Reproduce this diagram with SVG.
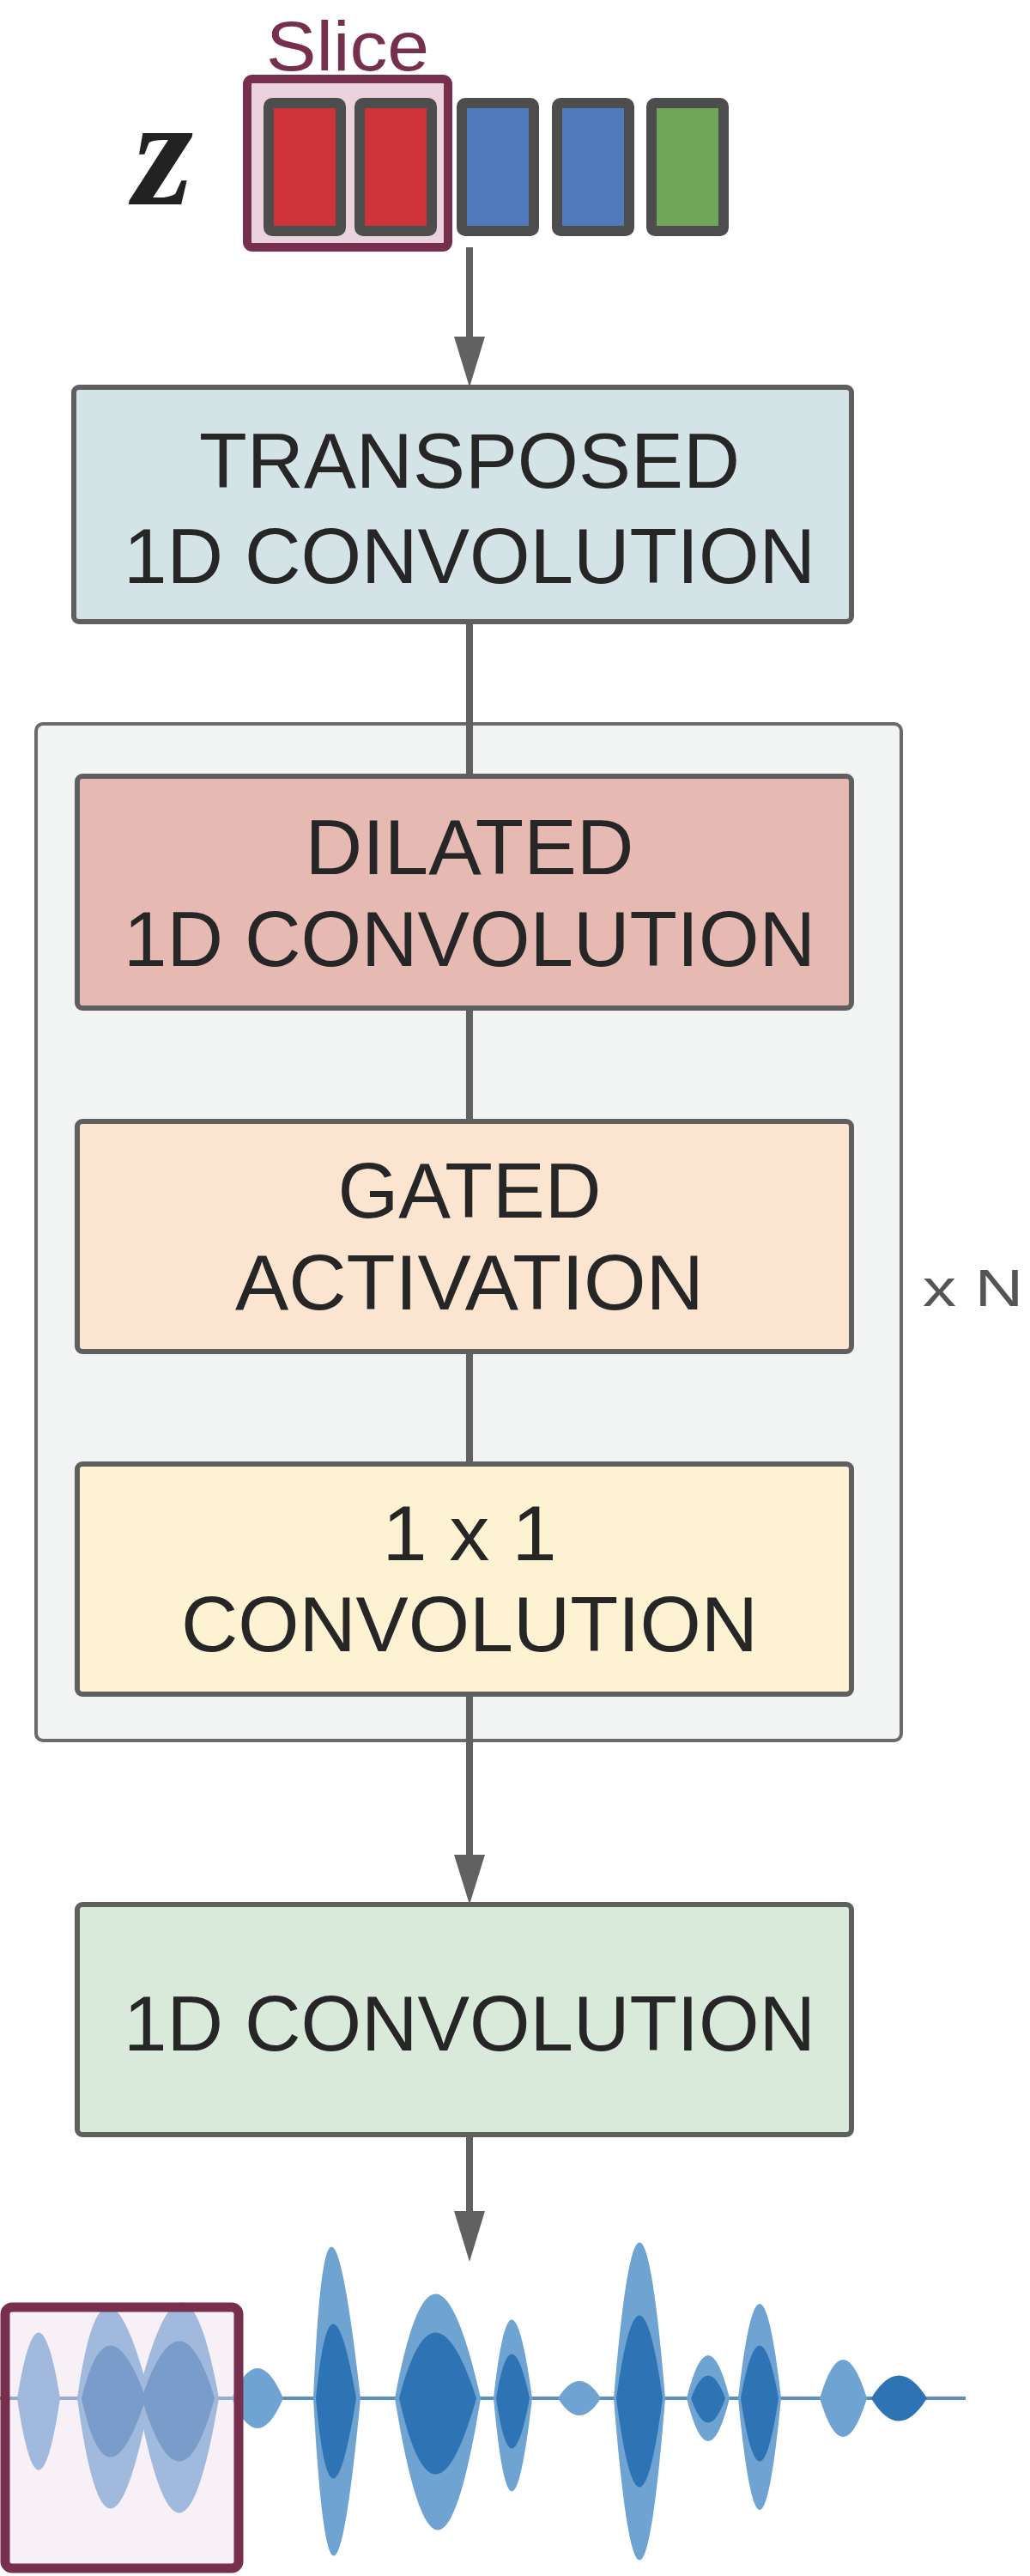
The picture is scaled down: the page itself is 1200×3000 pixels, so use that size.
<svg xmlns="http://www.w3.org/2000/svg" width="1200" height="3000" viewBox="0 0 1200 3000">
<style>
.box{stroke:#5f5f5f;stroke-width:6}
.t{font-family:"Liberation Sans",Arial,sans-serif;font-size:90px;fill:#262626;text-anchor:middle}
.sq{stroke:#4d4d4d;stroke-width:12}
.wl{fill:#6fa3d2}
.wd{fill:#2e74b5}
.con{stroke:#616161;stroke-width:8;fill:none}
.head{fill:#616161}
</style>
<rect width="1200" height="3000" fill="#ffffff"/>
<g id="container"><rect x="42" y="843" width="1008" height="1184" rx="8" fill="#f2f4f4" stroke="#6a6a6a" stroke-width="4"/></g>
<g id="connectors">
<line class="con" x1="547" y1="288" x2="547" y2="395"/><polygon class="head" points="529,392 565,392 547,451"/>
<line class="con" x1="547" y1="724" x2="547" y2="2162"/><polygon class="head" points="529,2160 565,2160 547,2218"/>
<line class="con" x1="547" y1="2486" x2="547" y2="2578"/><polygon class="head" points="529,2575 565,2575 547,2634"/>
</g>
<g id="z-vector">
<text x="155" y="238" font-family="Liberation Serif,serif" font-style="italic" font-weight="bold" font-size="180" fill="#222">z</text>
<text x="405" y="82" font-family="Liberation Sans,Arial,sans-serif" font-size="82" fill="#76304e" text-anchor="middle" textLength="190" lengthAdjust="spacingAndGlyphs">Slice</text>
<rect x="288" y="92" width="234" height="196" rx="6" fill="#ead3dc" stroke="#76304e" stroke-width="10"/>
<rect class="sq" x="313" y="120" width="84" height="149" rx="4" fill="#cd3338"/>
<rect class="sq" x="419" y="120" width="84" height="149" rx="4" fill="#cd3338"/>
<rect class="sq" x="538" y="120" width="84" height="149" rx="4" fill="#4f7bbd"/>
<rect class="sq" x="649" y="120" width="84" height="149" rx="4" fill="#4f7bbd"/>
<rect class="sq" x="759" y="120" width="84" height="149" rx="4" fill="#6fa65a"/>
</g>
<g id="transposed"><rect class="box" x="86" y="451" width="906" height="273" rx="6" fill="#d3e3e6"/>
<text class="t" x="547" y="568" textLength="630" lengthAdjust="spacingAndGlyphs">TRANSPOSED</text>
<text class="t" x="547" y="679" textLength="806" lengthAdjust="spacingAndGlyphs">1D CONVOLUTION</text></g>
<g id="dilated"><rect class="box" x="90" y="904" width="902" height="270" rx="6" fill="#e6bab3"/>
<text class="t" x="547" y="1018" textLength="383" lengthAdjust="spacingAndGlyphs">DILATED</text>
<text class="t" x="547" y="1125" textLength="806" lengthAdjust="spacingAndGlyphs">1D CONVOLUTION</text></g>
<g id="gated"><rect class="box" x="90" y="1306" width="902" height="268" rx="6" fill="#fbe5d0"/>
<text class="t" x="547" y="1418" textLength="307" lengthAdjust="spacingAndGlyphs">GATED</text>
<text class="t" x="547" y="1525" textLength="546" lengthAdjust="spacingAndGlyphs">ACTIVATION</text></g>
<g id="conv1x1"><rect class="box" x="90" y="1705" width="902" height="268" rx="6" fill="#fdf2d2"/>
<text class="t" x="547" y="1817" textLength="203" lengthAdjust="spacingAndGlyphs">1 x 1</text>
<text class="t" x="547" y="1923" textLength="672" lengthAdjust="spacingAndGlyphs">CONVOLUTION</text></g>
<g id="xN"><text x="1075" y="1521" font-family="Liberation Sans,Arial,sans-serif" font-size="62" fill="#555" textLength="117" lengthAdjust="spacingAndGlyphs">x N</text></g>
<g id="conv1d"><rect class="box" x="90" y="2218" width="902" height="268" rx="6" fill="#d9eadb"/>
<text class="t" x="547" y="2388" textLength="806" lengthAdjust="spacingAndGlyphs">1D CONVOLUTION</text></g>
<g id="waveform">
<line x1="0" y1="2793" x2="1125" y2="2793" stroke="#5b8fc0" stroke-width="4"/>
<path class="wl" d="M20,2793 Q45,2640 70,2793 Q45,2960 20,2793Z"/>
<path class="wl" d="M90,2793 Q120,2580 175,2793 Q125,3050 90,2793Z"/>
<path class="wl" d="M160,2793 Q215,2570 255,2793 Q210,3060 160,2793Z"/>
<path class="wl" d="M270,2793 Q300,2723 330,2793 Q300,2863 270,2793Z"/>
<path class="wl" d="M365,2793 Q380,2440 420,2793 Q385,3160 365,2793Z"/>
<path class="wl" d="M460,2793 Q505,2550 560,2793 Q510,3100 460,2793Z"/>
<path class="wl" d="M575,2793 Q595,2610 620,2793 Q595,3010 575,2793Z"/>
<path class="wl" d="M650,2793 Q675,2753 700,2793 Q675,2833 650,2793Z"/>
<path class="wl" d="M715,2793 Q745,2430 775,2793 Q745,3170 715,2793Z"/>
<path class="wl" d="M800,2793 Q825,2693 850,2793 Q825,2893 800,2793Z"/>
<path class="wl" d="M860,2793 Q885,2573 910,2793 Q885,3053 860,2793Z"/>
<path class="wl" d="M955,2793 Q982,2703 1010,2793 Q982,2883 955,2793Z"/>
<path class="wd" d="M95,2793 Q125,2670 170,2793 Q125,2930 95,2793Z"/>
<path class="wd" d="M165,2793 Q210,2660 250,2793 Q210,2940 165,2793Z"/>
<path class="wd" d="M368,2793 Q385,2620 415,2793 Q385,2980 368,2793Z"/>
<path class="wd" d="M465,2793 Q505,2640 555,2793 Q505,2970 465,2793Z"/>
<path class="wd" d="M578,2793 Q595,2690 617,2793 Q595,2910 578,2793Z"/>
<path class="wd" d="M718,2793 Q745,2600 772,2793 Q745,3000 718,2793Z"/>
<path class="wd" d="M805,2793 Q825,2740 845,2793 Q825,2850 805,2793Z"/>
<path class="wd" d="M863,2793 Q885,2670 907,2793 Q885,2940 863,2793Z"/>
<path class="wd" d="M1015,2793 Q1047,2740 1080,2793 Q1047,2846 1015,2793Z"/>
<rect x="6" y="2687" width="272" height="304" rx="8" fill="#ecd9ea" fill-opacity="0.4" stroke="#76304e" stroke-width="11"/>
</g>
</svg>
